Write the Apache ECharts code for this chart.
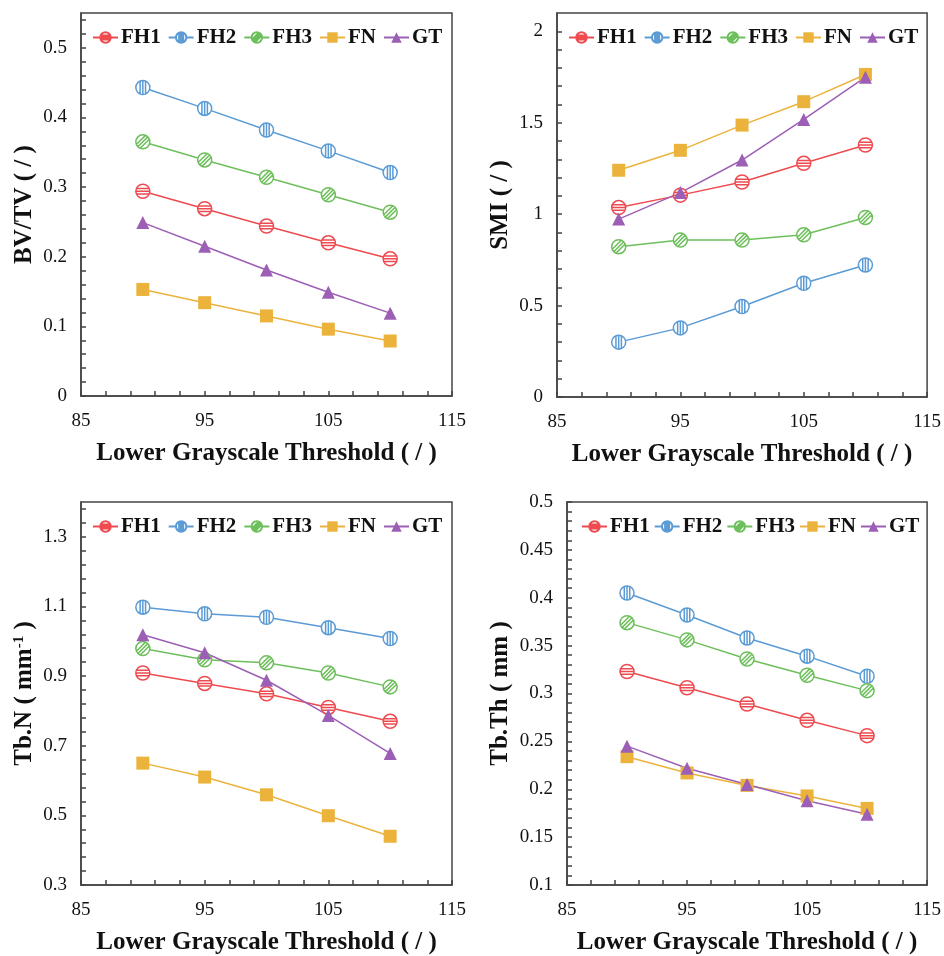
<!DOCTYPE html>
<html>
<head>
<meta charset="utf-8">
<script src="https://cdn.jsdelivr.net/npm/echarts@6/dist/echarts.min.js"></script>
<style>
  html, body { margin: 0; padding: 0; background: #fff; }
  #chart { width: 944px; height: 956px; }
</style>
</head>
<body>
<div id="chart"></div>
<script>
// x values and series names
const thresholds = [90, 95, 100, 105, 110]
const seriesNames = ['FH1', 'FH2', 'FH3', 'FN', 'GT']

// values per panel, in the order of seriesNames
const bvtvValues = [
  [0.294, 0.269, 0.244, 0.220, 0.197],
  [0.443, 0.413, 0.382, 0.352, 0.321],
  [0.365, 0.339, 0.314, 0.289, 0.264],
  [0.153, 0.134, 0.115, 0.096, 0.079],
  [0.249, 0.215, 0.181, 0.149, 0.119]
]
const smiValues = [
  [1.036, 1.104, 1.176, 1.278, 1.378],
  [0.300, 0.378, 0.495, 0.622, 0.722],
  [0.822, 0.858, 0.858, 0.887, 0.982],
  [1.240, 1.349, 1.487, 1.615, 1.764],
  [0.973, 1.118, 1.296, 1.518, 1.749]
]
const tbnValues = [
  [0.909, 0.879, 0.849, 0.810, 0.770],
  [1.098, 1.079, 1.069, 1.039, 1.008],
  [0.979, 0.947, 0.938, 0.909, 0.869],
  [0.650, 0.610, 0.559, 0.499, 0.440],
  [1.019, 0.967, 0.888, 0.787, 0.678]
]
const tbthValues = [
  [0.323, 0.306, 0.289, 0.272, 0.256],
  [0.405, 0.382, 0.358, 0.339, 0.318],
  [0.374, 0.356, 0.336, 0.319, 0.303],
  [0.234, 0.217, 0.204, 0.193, 0.180],
  [0.245, 0.222, 0.205, 0.188, 0.174]
]

// tick labels
const xTicks = [85, 95, 105, 115]
const bvtvTicks = [0, 0.1, 0.2, 0.3, 0.4, 0.5]
const smiTicks = [0, 0.5, 1, 1.5, 2]
const tbnTicks = [0.3, 0.5, 0.7, 0.9, 1.1, 1.3]
const tbthTicks = [0.1, 0.15, 0.2, 0.25, 0.3, 0.35, 0.4, 0.45, 0.5]

const colors = ['#ee4b50', '#5b9bd5', '#6dbf5b', '#ebb33c', '#9c5fb5']
const serif = '"Liberation Serif", "Times New Roman", serif'

// striped circle markers
const circle = 'M1,10 A9,9 0 1,1 19,10 A9,9 0 1,1 1,10 Z '
const symbols = [
  'path://' + circle + 'M1.7,6.5 L18.3,6.5 M1,10 L19,10 M1.7,13.5 L18.3,13.5',
  'path://' + circle + 'M6.5,1.7 L6.5,18.3 M10,1 L10,19 M13.5,1.7 L13.5,18.3',
  'path://' + circle + 'M3.6,16.4 L16.4,3.6 M6.6,18.3 L18.3,6.6 M1.7,13.4 L13.4,1.7',
  'rect',
  'triangle'
]

function tickRange(from, to, step) {
  const out = []
  const n = Math.round((to - from) / step)
  for (let i = 0; i <= n; i++) out.push(+(from + i * step).toFixed(4))
  return out
}

const grids = [
  { left: 81, top: 13, width: 371, height: 383 },
  { left: 557, top: 13, width: 371, height: 384 },
  { left: 81, top: 502, width: 371, height: 384 },
  { left: 567, top: 502, width: 361, height: 384 }
]
const legendGaps = [7, 7, 7, 4]

const panels = [
  { name: 'BV/TV ( / )', values: bvtvValues, min: 0, max: 0.55, ticks: bvtvTicks, step: 0.02, tickTo: 0.54, gap: 44 },
  { name: 'SMI ( / )', values: smiValues, min: 0, max: 2.1, ticks: smiTicks, step: 0.1, tickTo: 2.0, gap: 44 },
  { name: 'Tb.N ( mm{sup|-1} )', values: tbnValues, min: 0.3, max: 1.4, ticks: tbnTicks, step: 0.04, tickTo: 1.38, gap: 44 },
  { name: 'Tb.Th ( mm )', values: tbthValues, min: 0.1, max: 0.5, ticks: tbthTicks, step: 0.01, tickTo: 0.5, gap: 54 }
]

const axisLineStyle = { color: '#444', width: 1.5 }

const option = {
  backgroundColor: '#fff',
  animation: false,
  grid: grids.map(g => ({ ...g, show: true, borderColor: '#444', borderWidth: 1.5 })),
  legend: grids.map((g, i) => ({
    data: seriesNames.map(n => ({ name: n })),
    left: g.left + (i === 3 ? 9 : 6),
    top: g.top + 9,
    itemWidth: 25,
    itemHeight: 13,
    itemGap: legendGaps[i],
    selectedMode: false,
    textStyle: { fontFamily: serif, fontWeight: 'bold', fontSize: 21, color: '#111', padding: [0, 0, 0, -2] }
  })),
  xAxis: grids.map((g, i) => ({
    type: 'value',
    gridIndex: i,
    min: 85,
    max: 115,
    name: 'Lower Grayscale Threshold ( / )',
    nameLocation: 'middle',
    nameGap: 45,
    nameTextStyle: { fontFamily: serif, fontWeight: 'bold', fontSize: 25, color: '#111' },
    axisLine: { show: true, lineStyle: axisLineStyle },
    axisTick: { show: true, inside: true, length: 5, lineStyle: axisLineStyle, customValues: tickRange(85, 115, 2) },
    axisLabel: { fontFamily: serif, fontSize: 19, color: '#111', margin: 16, customValues: xTicks },
    splitLine: { show: false }
  })),
  yAxis: panels.map((p, i) => ({
    type: 'value',
    gridIndex: i,
    min: p.min,
    max: p.max,
    name: p.name,
    nameLocation: 'middle',
    nameGap: p.gap,
    nameTextStyle: {
      fontFamily: serif, fontWeight: 'bold', fontSize: 25, color: '#111',
      rich: { sup: { fontFamily: serif, fontWeight: 'bold', fontSize: 15, color: '#111', padding: [0, 0, 10, 0] } }
    },
    axisLine: { show: true, lineStyle: axisLineStyle },
    axisTick: { show: true, inside: true, length: 5, lineStyle: axisLineStyle, customValues: tickRange(p.min, p.tickTo, p.step) },
    axisLabel: { fontFamily: serif, fontSize: 19, color: '#111', margin: 14, customValues: p.ticks },
    splitLine: { show: false }
  })),
  series: []
}

panels.forEach((p, gi) => {
  seriesNames.forEach((name, si) => {
    const striped = si < 3
    option.series.push({
      name: name,
      type: 'line',
      xAxisIndex: gi,
      yAxisIndex: gi,
      data: thresholds.map((x, k) => [x, p.values[si][k]]),
      symbol: symbols[si],
      symbolSize: striped ? 14 : 13,
      lineStyle: { color: colors[si], width: 1.5 },
      itemStyle: striped
        ? { color: '#fff', borderColor: colors[si], borderWidth: 1.5 }
        : { color: colors[si] },
      z: 2
    })
  })
})

const chart = echarts.init(document.getElementById('chart'))
chart.setOption(option)
</script>
</body>
</html>
